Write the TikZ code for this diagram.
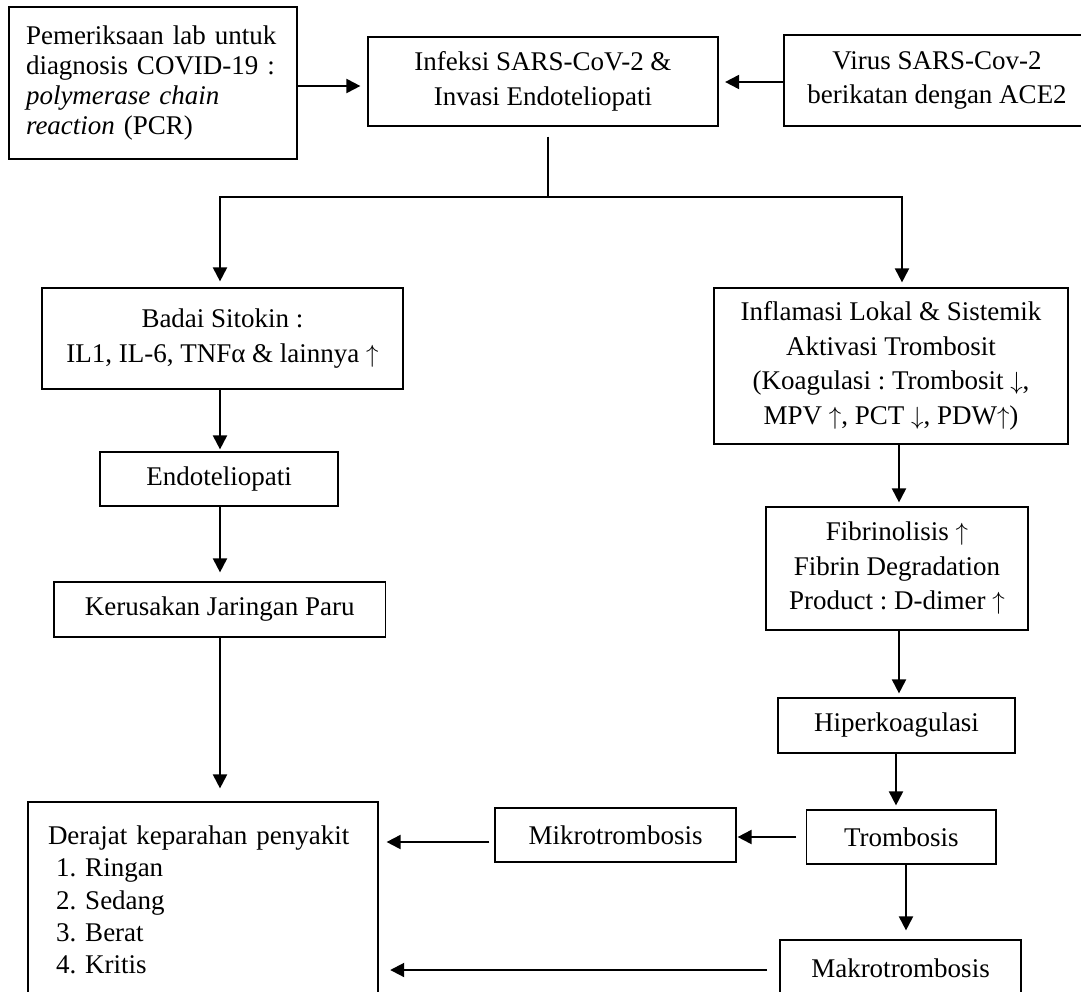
\documentclass[tikz,border=0pt]{standalone}
\usepackage{fontspec}
\setmainfont{Liberation Serif}
\usetikzlibrary{arrows.meta}
\newcommand{\upa}{$\uparrow$}
\newcommand{\dna}{$\downarrow$}
\tikzset{
  box/.style={draw, line width=1.2pt, align=center, inner sep=0pt,
              font=\fontsize{27}{34.5}\selectfont\frenchspacing},
  arr/.style={-{Triangle[length=14pt,width=14pt]}, line width=2pt},
}
\begin{document}
\begin{tikzpicture}[x=1pt,y=-1pt]
\useasboundingbox (0,0) rectangle (1081,991);
\clip (0,0) rectangle (1081,991);
\fill[white] (0,0) rectangle (1081,991);

% top row
\node[box, minimum width=288pt, minimum height=152pt, text width=254pt, inner xsep=17pt, align=left,
      font=\fontsize{27}{30}\selectfont] (pcr) at (153,83)
  {Pemeriksaan lab untuk\\diagnosis COVID-19 :\\\textit{polymerase chain}\\\textit{reaction} (PCR)};
\node[box, minimum width=350pt, minimum height=89pt] (infeksi) at (543,81.5)
  {Infeksi SARS-CoV-2 \&\\Invasi Endoteliopati};
\node[box, minimum width=306pt, minimum height=91pt] (virus) at (937,80.5)
  {Virus SARS-Cov-2\\berikatan dengan ACE2};

% left column
\node[box, minimum width=361pt, minimum height=101pt] (badai) at (222.5,338.5)
  {Badai Sitokin :\\IL1, IL-6, TNFα \& lainnya \upa};
\node[box, minimum width=238pt, minimum height=54pt] (endo) at (219,479) {Endoteliopati};
\node[box, minimum width=331.5pt, minimum height=55pt] (kerus) at (219.75,609.5) {Kerusakan Jaringan Paru};
\node[box, minimum width=350pt, minimum height=196pt, text width=310pt, inner xsep=20pt, align=left,
      font=\fontsize{27}{32.3}\selectfont\frenchspacing] (derajat) at (203,900)
  {Derajat keparahan penyakit\\
   \hspace*{8pt}1. Ringan\\
   \hspace*{8pt}2. Sedang\\
   \hspace*{8pt}3. Berat\\
   \hspace*{8pt}4. Kritis};

% right column
\node[box, minimum width=354pt, minimum height=156pt] (inflamasi) at (891,366)
  {Inflamasi Lokal \& Sistemik\\Aktivasi Trombosit\\(Koagulasi : Trombosit \dna,\\MPV \upa, PCT \dna, PDW\upa)};
\node[box, minimum width=262pt, minimum height=123pt] (fibrino) at (897,568.5)
  {Fibrinolisis \upa\\Fibrin Degradation\\Product : D-dimer \upa};
\node[box, minimum width=237pt, minimum height=55pt] (hiper) at (896.5,725.5) {Hiperkoagulasi};
\node[box, minimum width=189.4pt, minimum height=54pt] (trombosis) at (901.3,837) {Trombosis};
\node[box, minimum width=241pt, minimum height=54pt] (mikro) at (615.5,835) {Mikrotrombosis};
\node[box, minimum width=241pt, minimum height=56pt] (makro) at (900.5,968) {Makrotrombosis};

% connectors: top row
\draw[arr, shorten >=7pt] ([yshift=-3pt]pcr.east) -- ([yshift=-4.5pt]infeksi.west);
\draw[arr, shorten >=6.5pt] ([yshift=-1.5pt]virus.west) -- ([yshift=-0.5pt]infeksi.east);

% split
\coordinate (stemtop) at ([xshift=5pt,yshift=-10pt]infeksi.south);
\coordinate (split) at (548,197);
\draw[line width=1.3pt] (stemtop) -- (split);
\draw[arr, shorten >=6pt] (split) -| ([xshift=-2.5pt]badai.north);
\draw[arr, shorten >=5pt] (split) -| ([xshift=11pt]inflamasi.north);

% left column
\draw[arr, shorten >=2pt] ([xshift=-2.5pt]badai.south) -- ([xshift=1pt]endo.north);
\draw[arr, shorten >=9pt] ([xshift=1pt]endo.south) -- ([xshift=0.25pt]kerus.north);
\draw[arr, shorten >=13pt] ([xshift=0.25pt]kerus.south) -- ([xshift=17pt]derajat.north);

% right column
\draw[arr, shorten >=4pt] ([xshift=8pt]inflamasi.south) -- ([xshift=2pt]fibrino.north);
\draw[arr, shorten >=4pt] ([xshift=2pt]fibrino.south) -- ([xshift=2.5pt]hiper.north);
\draw[arr, shorten >=4pt] ([xshift=-0.5pt]hiper.south) -- ([xshift=-5.3pt]trombosis.north);
\draw[arr, shorten <=9.6pt, shorten >=1pt] (trombosis.west) -- (mikro.east |- trombosis.west);
\coordinate (m1) at ([yshift=-7pt]mikro.west);
\draw[arr, shorten <=5pt, shorten >=8pt] (m1) -- (derajat.east |- m1);
\draw[arr, shorten >=9pt] ([xshift=4.7pt]trombosis.south) -- ([xshift=5.5pt]makro.north);
\coordinate (m2) at ([yshift=-2pt]makro.west);
\draw[arr, shorten <=12.4pt, shorten >=11.6pt] (m2) -- (derajat.east |- m2);
\end{tikzpicture}
\end{document}
